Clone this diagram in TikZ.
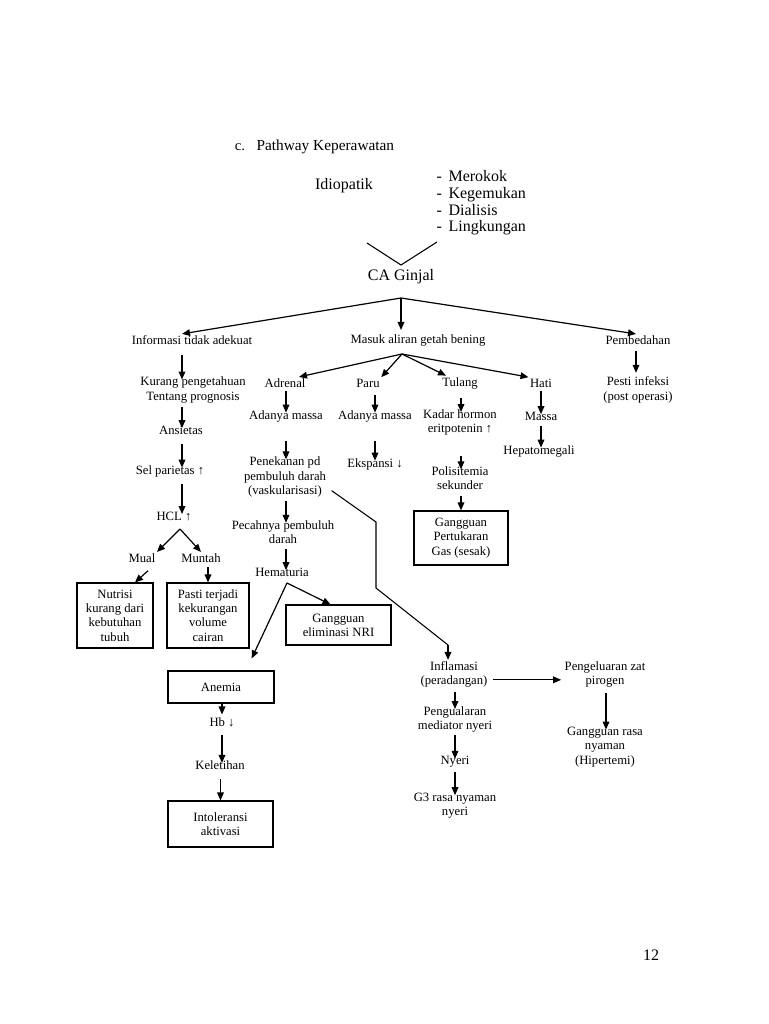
\documentclass[tikz,border=0pt]{standalone}
\usepackage{fontspec}
\setmainfont{Liberation Serif}
\usetikzlibrary{arrows.meta}
\newcommand{\labelFont}{\fontsize{9.5}{10.7}\selectfont}
\newcommand{\headFont}{\fontsize{12}{12.5}\selectfont}
\tikzstyle{page} = [x = 0.75pt, y = -0.75pt]
\tikzstyle{labelText} = [font=\labelFont, align=center, inner sep=1pt]
\tikzstyle{headText} = [font=\headFont, align=center, inner sep=1pt]
\tikzstyle{boxStyle} = [draw, line width=0.85pt, labelText, inner sep=2pt]
\tikzstyle{flowArrow} = [-{Triangle[length=6pt, width=5pt]}, line width=0.9pt]
\tikzstyle{flowLine} = [line width=0.8pt]
\newcommand{\colAt}[2]{\coordinate (#1) at (#2,0);}
\newcommand{\flowDown}[4][3pt]{\draw [flowArrow, shorten <=#1, shorten >=-3pt] (#3.south -| #2) -- (#4.north -| #2);}
\newcommand{\pathBox}[6]{\node [boxStyle, minimum width=#5, minimum height=#6] (#1) at (#2,#3) {#4};}

\begin{document}
\begin{tikzpicture}[page]
  \fill [white] (0,0) rectangle (768,1024);
  \useasboundingbox (0,0) rectangle (768,1024);

  % heading and causes
  \node [headText, font=\fontsize{11}{12}\selectfont] (itemLabel) at (240,147) {c.};
  \node [headText, anchor=west, font=\fontsize{11.5}{12}\selectfont] (title) at (255,147) {Pathway Keperawatan};
  \node [headText] (idiopatik) at (344,186) {Idiopatik};
  \node [headText, align=left, anchor=west] (riskList) at (435,203) {-\, Merokok\\-\, Kegemukan\\-\, Dialisis\\-\, Lingkungan};
  \coordinate (vLeft) at (367,243);
  \coordinate (vApex) at (401,265);
  \coordinate (vRight) at (437,242);
  \draw [flowLine] (vLeft) -- (vApex) -- (vRight);
  \node [headText] (caGinjal) at (401,277) {CA Ginjal};

  % columns
  \colAt{colLeft}{182}
  \colAt{colAdrenal}{286}
  \colAt{colParu}{375}
  \colAt{colTulang}{461}
  \colAt{colHati}{541}
  \colAt{colBedah}{636}
  \colAt{colAnemia}{222}
  \colAt{colInflam}{455}
  \colAt{colPirogen}{606}

  % first level
  \node [labelText] (informasi) at (192,340) {Informasi tidak adekuat};
  \node [labelText] (masuk) at (418,340) {Masuk aliran getah bening};
  \node [labelText] (pembedahan) at (638,340) {Pembedahan};
  \coordinate (caFork) at (401,298);
  \draw [flowArrow] (caFork) -- (informasi.north -| colLeft);
  \draw [flowArrow, shorten >=2pt] (caFork) -- (caFork |- masuk.north);
  \draw [flowArrow] (caFork) -- (pembedahan.north -| colBedah);

  % left branch
  \node [labelText] (kurang) at (193,390) {Kurang pengetahuan\\Tentang prognosis};
  \node [labelText] (ansietas) at (181,430) {Ansietas};
  \node [labelText] (selParietas) at (170,471) {Sel parietas ↑};
  \node [labelText] (hcl) at (174,516) {HCL ↑};
  \node [labelText] (mual) at (142,558) {Mual};
  \node [labelText] (muntah) at (201,558) {Muntah};
  \pathBox{nutrisi}{115}{615.5}{Nutrisi\\kurang dari\\kebutuhan\\tubuh}{57pt}{48.75pt}
  \pathBox{pasti}{208}{615.5}{Pasti terjadi\\kekurangan\\volume\\cairan}{61.5pt}{48.75pt}
  \flowDown[6.5pt]{colLeft}{informasi}{kurang}
  \flowDown[2pt]{colLeft}{kurang}{ansietas}
  \flowDown[6pt]{colLeft}{ansietas}{selParietas}
  \flowDown[4.5pt]{colLeft}{selParietas}{hcl}
  \coordinate (hclFork) at (180,529);
  \draw [flowArrow] (hclFork) -- (mual.north east);
  \draw [flowArrow] (hclFork) -- (muntah.north);
  \draw [flowArrow] ([shift={(4.5pt,-5pt)}]mual.south) -- ([xshift=15pt]nutrisi.north);
  \draw [flowArrow, shorten <=2pt] (muntah.south -| pasti.north) -- (pasti.north);

  % lymph branch
  \node [labelText] (adrenal) at (285,383) {Adrenal};
  \node [labelText] (paru) at (368,383) {Paru};
  \node [labelText] (tulang) at (460,383) {Tulang};
  \node [labelText] (hati) at (541,383) {Hati};
  \coordinate (masukFork) at (402,354);
  \draw [flowArrow] (masukFork) -- ([xshift=-6pt]adrenal.north east);
  \draw [flowArrow] (masukFork) -- (paru.north east);
  \draw [flowArrow] (masukFork) -- ([xshift=4pt]tulang.north west);
  \draw [flowArrow] (masukFork) -- (hati.north west);

  \node [labelText] (adanyaAdrenal) at (286,416) {Adanya massa};
  \node [labelText] (penekanan) at (285,477) {Penekanan pd\\pembuluh darah\\(vaskularisasi)};
  \node [labelText] (pecahnya) at (283,532) {Pecahnya pembuluh\\darah};
  \node [labelText] (hematuria) at (282,572) {Hematuria};
  \pathBox{eliminasi}{338.5}{625}{Gangguan\\eliminasi NRI}{78.75pt}{30pt}
  \flowDown[1.5pt]{colAdrenal}{adrenal}{adanyaAdrenal}
  \flowDown[13.5pt]{colAdrenal}{adanyaAdrenal}{penekanan}
  \flowDown[2pt]{colAdrenal}{penekanan}{pecahnya}
  \flowDown{colAdrenal}{pecahnya}{hematuria}
  \coordinate (hemFork) at (287,583);
  \draw [flowArrow] (hemFork) -- ([xshift=-6pt]eliminasi.north);

  \node [labelText] (adanyaParu) at (375,416) {Adanya massa};
  \node [labelText] (ekspansi) at (375,464) {Ekspansi ↓};
  \flowDown[5pt]{colParu}{paru}{adanyaParu}
  \flowDown[13.5pt]{colParu}{adanyaParu}{ekspansi}

  \node [labelText] (kadarHormon) at (460,422.5) {Kadar hormon\\eritpotenin ↑};
  \node [labelText] (polisitemia) at (460,478.5) {Polisitemia\\sekunder};
  \pathBox{gasBox}{461}{538}{Gangguan\\Pertukaran\\Gas (sesak)}{70.5pt}{40.5pt}
  \flowDown[6pt]{colTulang}{tulang}{kadarHormon}
  \flowDown[14pt]{colTulang}{kadarHormon}{polisitemia}
  \draw [flowArrow, shorten <=3pt] (polisitemia.south -| gasBox.north) -- (gasBox.north);

  \node [labelText] (massa) at (541,416) {Massa};
  \node [labelText] (hepatomegali) at (539,451) {Hepatomegali};
  \flowDown[1.5pt]{colHati}{hati}{massa}
  \flowDown{colHati}{massa}{hepatomegali}

  \node [labelText] (pestiInfeksi) at (638,390) {Pesti infeksi\\(post operasi)};
  \draw [flowArrow, shorten <=3.5pt, shorten >=2pt] (pembedahan.south -| colBedah) -- (pestiInfeksi.north -| colBedah);

  % anemia chain
  \pathBox{anemia}{221}{687}{Anemia}{79.5pt}{24pt}
  \node [labelText] (hb) at (222,722) {Hb ↓};
  \node [labelText] (keletihan) at (220,765) {Keletihan};
  \pathBox{intoleransi}{220.5}{824}{Intoleransi\\aktivasi}{78.75pt}{34.5pt}
  \draw [flowArrow] (hemFork) -- ([shift={(23pt,9pt)}]anemia.north);
  \draw [flowArrow, shorten >=1pt] (anemia.south -| colAnemia) -- (hb.north -| colAnemia);
  \flowDown[5pt]{colAnemia}{hb}{keletihan}
  \draw [flowArrow, shorten <=6pt] (keletihan.south -| intoleransi.north) -- (intoleransi.north);

  % inflammation chain
  \coordinate (bendA) at (376,522);
  \coordinate (bendB) at (376,588);
  \coordinate (bendC) at (448,645);
  \node [labelText] (inflamasi) at (454,674.5) {Inflamasi\\(peradangan)};
  \node [labelText] (pengeluaran) at (605,674.5) {Pengeluaran zat\\pirogen};
  \node [labelText] (gangguanRasa) at (605,747) {Gangguan rasa\\nyaman\\(Hipertemi)};
  \node [labelText] (pengularan) at (455,719.5) {Pengualaran\\mediator nyeri};
  \node [labelText] (nyeri) at (455,762) {Nyeri};
  \node [labelText] (gTiga) at (455,805.5) {G3 rasa nyaman\\nyeri};
  \draw [flowLine] ([shift={(3pt,6pt)}]penekanan.south east) -- (bendA) -- (bendB) -- (bendC);
  \draw [flowArrow] (bendC) -- (bendC |- inflamasi.north);
  \draw [flowArrow, shorten <=3pt, shorten >=1.5pt] ([yshift=-4pt]inflamasi.east) -- ([yshift=-4pt]pengeluaran.west);
  \flowDown[2pt]{colInflam}{inflamasi}{pengularan}
  \flowDown[1pt]{colInflam}{pengularan}{nyeri}
  \flowDown[2pt]{colInflam}{nyeri}{gTiga}
  \flowDown{colPirogen}{pengeluaran}{gangguanRasa}

  \node [headText] (pageNum) at (651,955) {12};
\end{tikzpicture}
\end{document}
